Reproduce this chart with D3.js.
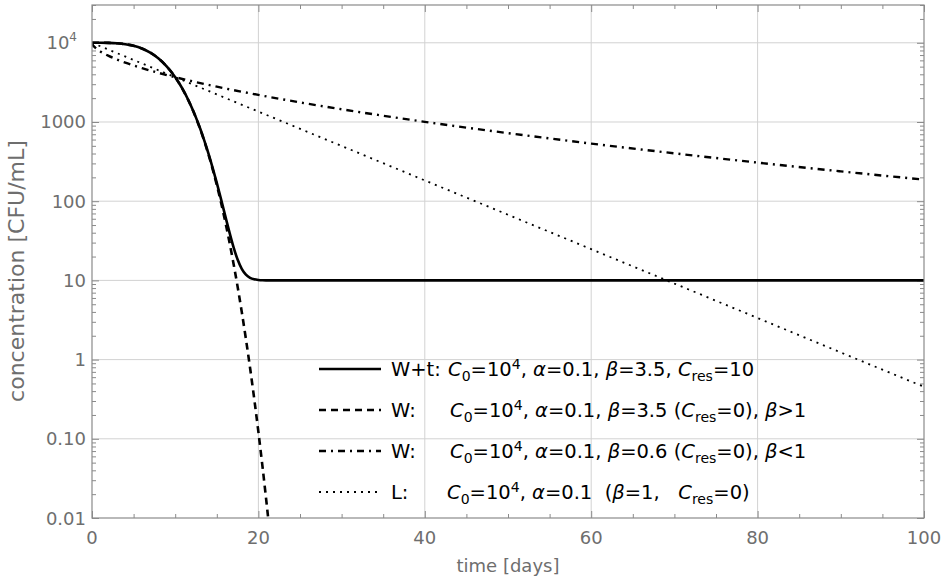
<!DOCTYPE html>
<html><head><meta charset="utf-8">
<script src="https://cdn.jsdelivr.net/npm/d3@7"></script>
<style>
body{margin:0;background:#fff}
svg{display:block}
text{font-family:"DejaVu Sans",Verdana,sans-serif}
</style>
</head><body>
<svg id="chart" width="949" height="582"></svg>
<script>
// ---- data ----
const timeW = [0,1,2,3,4,5,6,7,8,9,10,10.5,11,11.5,12,12.5,13,13.5,14,14.5,15,15.5,16,16.5,17,17.5,18,18.5,19,19.5,20,20.5,21,21.5];
const concWbeta35 = [10000,9997,9964,9853,9603,9154,8460,7505,6326,5008,3679,3054,2476,1957,1506,1126,817,573,389,254.5,160,96.9,56.3,31.2,16.5,8.34,4.00,1.817,0.784,0.319,0.122,0.0439,0.01485,0.00469];

const timeWt = [0,1,2,3,4,5,6,7,8,9,10,10.5,11,11.5,12,12.5,13,13.5,14,14.5,15,15.5,16,16.5,17,17.5,18,18.5,19,19.5,20,20.5,21,21.5,22,30,50,75,100];
const concWt = [10000,9997,9964,9853,9603,9155,8462,7508,6330,5013,3685,3061,2484,1965,1515,1135,826,582,399,264,170,106.8,66.2,41.2,26.5,18.33,14.0,11.82,10.78,10.32,10.12,10.04,10.015,10.005,10,10,10,10,10];

const timeWbeta06 = [0,0.1,0.25,0.5,1,2,3,4,5,6,8,10,12,15,20,25,30,35,40,50,60,70,80,90,100];
const concWbeta06 = [10000,9388,8964,8472,7779,6834,6153,5615,5170,4790,4170,3679,3277,2793,2197,1768,1447,1200,1005,723,534,402,307,238,187];

const timeL = [0,10,20,30,40,50,60,70,80,90,100];
const concL = [10000,3679,1353,498,183,67.4,24.8,9.12,3.35,1.23,0.454];

const xMajorTicks = [0,20,40,60,80,100];
const xMinorTicks = [5,10,15,25,30,35,45,50,55,65,70,75,85,90,95];
const yMajorTicks = [0.01,0.1,1,10,100,1000,10000];
const yTickLabels = ["0.01","0.10","1","10","100","1000","10^4"];

const seriesNames = ["W+t:","W:","W:","L:"];
// markup: *italic*, _{subscript}, ^{superscript}
const seriesParams = [
  "*C*_{0}=10^{4}, *α*=0.1, *β*=3.5, *C*_{res}=10",
  "*C*_{0}=10^{4}, *α*=0.1, *β*=3.5 (*C*_{res}=0), *β*>1",
  "*C*_{0}=10^{4}, *α*=0.1, *β*=0.6 (*C*_{res}=0), *β*<1",
  "*C*_{0}=10^{4}, *α*=0.1  (*β*=1,   *C*_{res}=0)"
];

// ---- layout / styles ----
const W = 949, H = 582;
const box = {l: 92, r: 924, t: 5, b: 518};
const frameColor = "#8a8a8a", gridColor = "#d2d2d2", labelColor = "#6e6e6e";

const svg = d3.select("#chart");
const x = d3.scaleLinear().domain([0,100]).range([box.l, box.r]);
const y = d3.scaleLog().domain([0.01, 3e4]).range([box.b, box.t]);

const yMinor = y.ticks().filter(v => !yMajorTicks.some(m => Math.abs(Math.log10(v) - Math.log10(m)) < 1e-9));

// grid
svg.append("g").selectAll("line").data(yMajorTicks.filter(v => v > 0.01)).join("line")
  .attr("x1", box.l).attr("x2", box.r).attr("y1", d => y(d)).attr("y2", d => y(d))
  .attr("stroke", gridColor).attr("stroke-width", 1);
svg.append("g").selectAll("line").data(xMajorTicks.filter(v => v > 0 && v < 100)).join("line")
  .attr("y1", box.t).attr("y2", box.b).attr("x1", d => x(d)).attr("x2", d => x(d))
  .attr("stroke", gridColor).attr("stroke-width", 1);

// axes ticks (inward)
function tickAxis(axisFn, scale, vals, size, transform) {
  const g = svg.append("g").attr("transform", transform)
    .call(axisFn(scale).tickValues(vals).tickSize(size).tickFormat(""));
  g.select(".domain").remove();
  g.selectAll("line").attr("stroke", frameColor);
}
tickAxis(d3.axisBottom, x, xMajorTicks, -7, `translate(0,${box.b})`);
tickAxis(d3.axisBottom, x, xMinorTicks, -4, `translate(0,${box.b})`);
tickAxis(d3.axisTop, x, xMajorTicks, -7, `translate(0,${box.t})`);
tickAxis(d3.axisTop, x, xMinorTicks, -4, `translate(0,${box.t})`);
tickAxis(d3.axisLeft, y, yMajorTicks, -7, `translate(${box.l},0)`);
tickAxis(d3.axisLeft, y, yMinor, -4, `translate(${box.l},0)`);
tickAxis(d3.axisRight, y, yMajorTicks, -7, `translate(${box.r},0)`);
tickAxis(d3.axisRight, y, yMinor, -4, `translate(${box.r},0)`);

// curves
svg.append("clipPath").attr("id", "plotclip").append("rect")
  .attr("x", box.l).attr("y", box.t).attr("width", box.r - box.l).attr("height", box.b - box.t);
const line = d3.line().x(d => x(d[0])).y(d => y(d[1])).curve(d3.curveMonotoneX);
const curves = svg.append("g").attr("clip-path", "url(#plotclip)");
const zip = (a, b) => a.map((t, i) => [t, b[i]]);
const styles = [
  {w: 2.6, dash: null},
  {w: 2.6, dash: "7,5"},
  {w: 2.4, dash: "7,5,2,5"},
  {w: 1.8, dash: "2,5"}
];
const seriesData = [zip(timeWt, concWt), zip(timeW, concWbeta35), zip(timeWbeta06, concWbeta06), zip(timeL, concL)];
[3,2,1,0].forEach(i => {
  curves.append("path").datum(seriesData[i]).attr("d", line)
    .attr("fill", "none").attr("stroke", "#000").attr("stroke-width", styles[i].w)
    .attr("stroke-dasharray", styles[i].dash);
});

// frame
svg.append("rect").attr("x", box.l).attr("y", box.t).attr("width", box.r - box.l).attr("height", box.b - box.t)
  .attr("fill", "none").attr("stroke", frameColor).attr("stroke-width", 1.2);

// tick labels
const fs = 18;
svg.append("g").selectAll("text").data(xMajorTicks).join("text")
  .attr("x", d => x(d)).attr("y", 544).attr("text-anchor", "middle")
  .attr("font-size", fs).attr("fill", labelColor).text(d => d);
yMajorTicks.forEach((v, i) => {
  const lab = yTickLabels[i];
  const t = svg.append("text").attr("y", y(v) + 6.5).attr("font-size", fs).attr("fill", labelColor)
    .attr("text-anchor", "end");
  if (lab.includes("^")) {
    const [b, e] = lab.split("^");
    t.attr("x", 77);
    t.append("tspan").text(b);
    t.append("tspan").attr("font-size", 12).attr("dy", -8).text(e);
  } else {
    t.attr("x", 86).text(lab);
  }
});

// axis titles
svg.append("text").attr("x", (box.l + box.r) / 2).attr("y", 572).attr("text-anchor", "middle")
  .attr("font-size", 18).attr("fill", labelColor).text("time [days]");
svg.append("text").attr("transform", `translate(24,271) rotate(-90)`).attr("text-anchor", "middle")
  .attr("font-size", 22).attr("fill", labelColor).text("concentration [CFU/mL]");

// legend
function rich(textSel, markup) {
  const re = /\*(.*?)\*|_\{(.*?)\}|\^\{(.*?)\}|([^*_^]+)/g;
  let m, shift = 0;
  while ((m = re.exec(markup)) !== null) {
    const ts = textSel.append("tspan");
    let target = 0;
    if (m[1] !== undefined) ts.attr("font-style", "italic").text(m[1]);
    else if (m[2] !== undefined) { ts.attr("font-size", "0.72em").text(m[2]); target = 5; }
    else if (m[3] !== undefined) { ts.attr("font-size", "0.72em").text(m[3]); target = -7; }
    else ts.text(m[4]);
    const dy = target - shift;
    if (dy !== 0) ts.attr("dy", dy);
    shift = target;
  }
}
const legY = [369, 410, 451, 492];
const legParamX = [448, 450, 450, 447];
const lfs = 19.5;
seriesNames.forEach((name, i) => {
  svg.append("line").attr("x1", 319).attr("x2", 381).attr("y1", legY[i]).attr("y2", legY[i])
    .attr("stroke", "#000").attr("stroke-width", styles[i].w).attr("stroke-dasharray", styles[i].dash);
  svg.append("text").attr("x", 391).attr("y", legY[i] + 7).attr("font-size", lfs).attr("fill", "#000").text(name);
  const t = svg.append("text").attr("x", legParamX[i]).attr("y", legY[i] + 7).attr("font-size", lfs)
    .attr("fill", "#000").attr("xml:space", "preserve").style("white-space", "pre");
  rich(t, seriesParams[i]);
});
</script>
</body></html>
